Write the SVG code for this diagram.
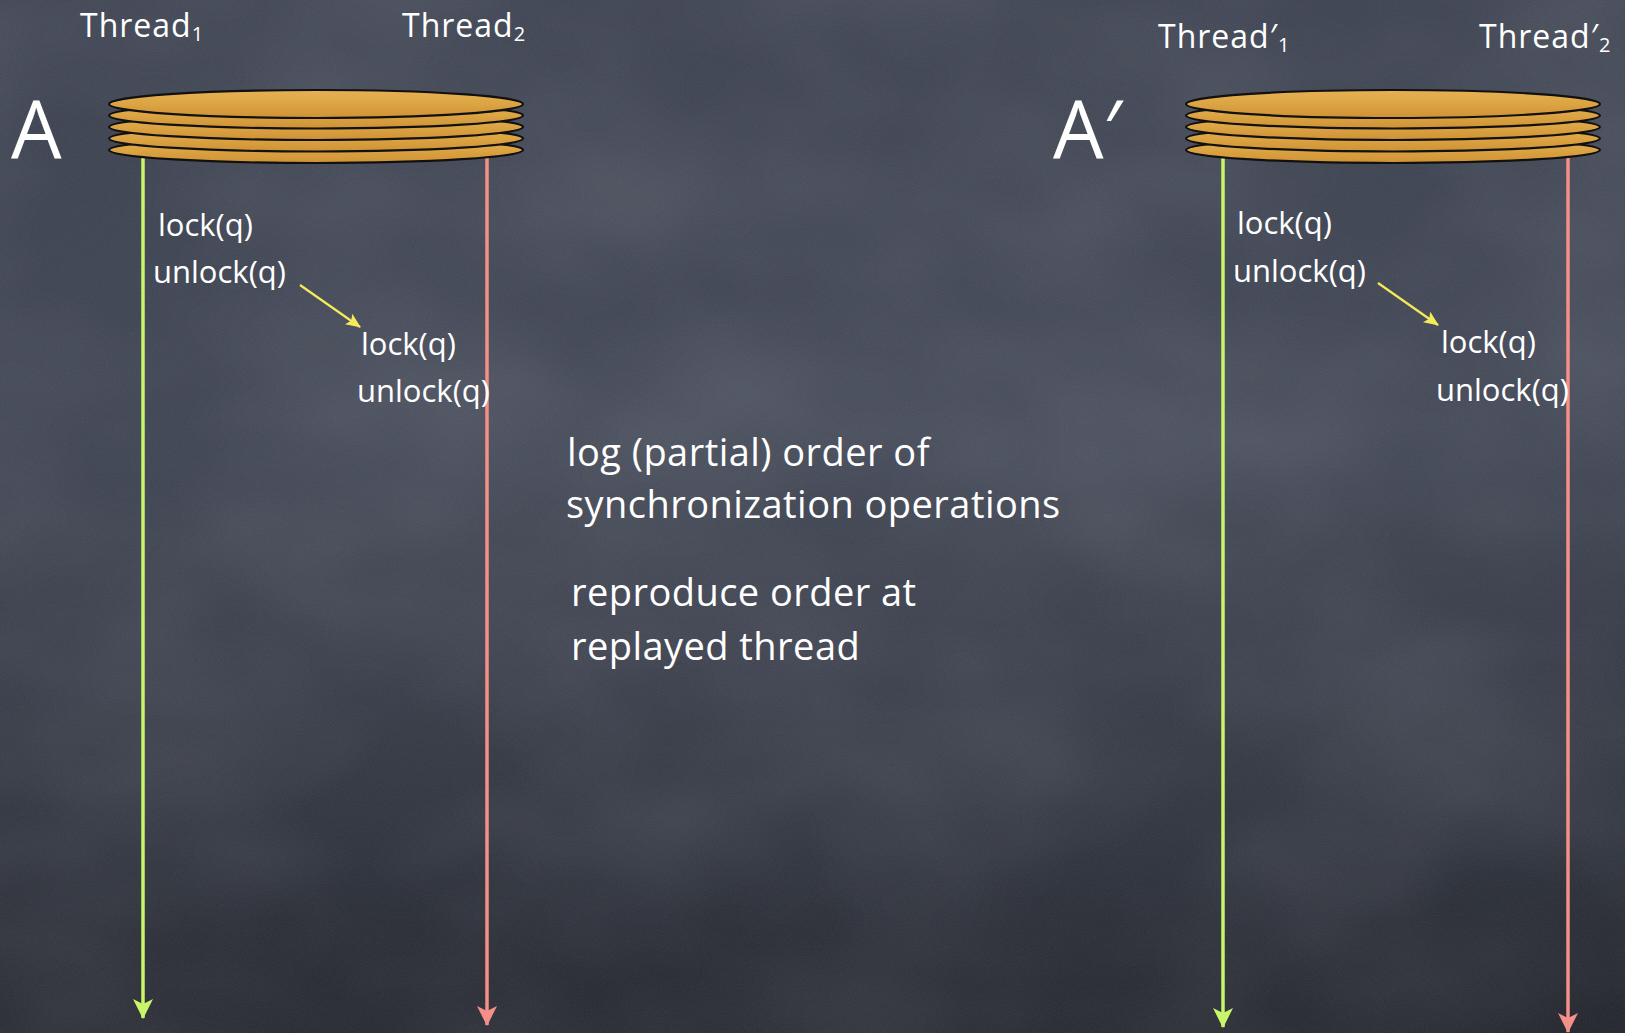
<svg xmlns="http://www.w3.org/2000/svg" width="1625" height="1033" viewBox="0 0 1625 1033">
  <defs>
    <style>
      .label { font-family: "Open Sans", "DejaVu Sans", sans-serif; fill: #ffffff; }
      .thread { font-size: 32px; letter-spacing: 1px; }
      .sub { font-size: 20px; }
      .big { font-size: 80px; }
      .op { font-size: 31px; }
      .note { font-size: 38px; letter-spacing: 0.45px; }
      .disk { fill: url(#wood); stroke: #111111; stroke-width: 2.2; }
      .t1 { stroke: #c9f56b; stroke-width: 3.5; fill: none; marker-end: url(#headGreen); }
      .t2 { stroke: #f58f88; stroke-width: 3.5; fill: none; marker-end: url(#headRed); }
      .order { stroke: #f4ea5c; stroke-width: 2.2; fill: none; marker-end: url(#headYellow); }
    </style>
    <!-- chalkboard shading -->
    <linearGradient id="board" x1="0" y1="0" x2="0" y2="1">
      <stop offset="0" stop-color="#3b404e"/>
      <stop offset="0.45" stop-color="#3d4250"/>
      <stop offset="0.8" stop-color="#2d313b"/>
      <stop offset="1" stop-color="#20232a"/>
    </linearGradient>
    <radialGradient id="smudge" cx="0.5" cy="0.45" r="0.6">
      <stop offset="0" stop-color="#5a5f6c" stop-opacity="0.15"/>
      <stop offset="1" stop-color="#5a5f6c" stop-opacity="0"/>
    </radialGradient>
    <filter id="grain" x="0" y="0" width="100%" height="100%">
      <feTurbulence type="fractalNoise" baseFrequency="0.9" numOctaves="2" seed="3"/>
      <feColorMatrix type="matrix" values="0 0 0 0 0.8  0 0 0 0 0.82  0 0 0 0 0.9  0 0 0 0.08 0"/>
    </filter>
    <filter id="blotch" x="0" y="0" width="100%" height="100%">
      <feTurbulence type="fractalNoise" baseFrequency="0.004 0.006" numOctaves="3" seed="11"/>
      <feColorMatrix type="matrix" values="0 0 0 0 0.6  0 0 0 0 0.62  0 0 0 0 0.7  0 0 0 0.18 -0.05"/>
    </filter>
    <!-- wooden platter -->
    <linearGradient id="wood" x1="0" y1="0" x2="0" y2="1">
      <stop offset="0" stop-color="#e7b254"/>
      <stop offset="0.5" stop-color="#dca442"/>
      <stop offset="1" stop-color="#cf9236"/>
    </linearGradient>
    <marker id="headGreen" viewBox="0 0 20 20" refX="19" refY="10" markerWidth="20" markerHeight="20" markerUnits="userSpaceOnUse" orient="auto">
      <path d="M0,0 L20,10 L0,20 L5,10 Z" fill="#c9f56b"/>
    </marker>
    <marker id="headRed" viewBox="0 0 20 20" refX="19" refY="10" markerWidth="20" markerHeight="20" markerUnits="userSpaceOnUse" orient="auto">
      <path d="M0,0 L20,10 L0,20 L5,10 Z" fill="#f58f88"/>
    </marker>
    <marker id="headYellow" viewBox="0 0 14 12" refX="13" refY="6" markerWidth="15" markerHeight="13" markerUnits="userSpaceOnUse" orient="auto">
      <path d="M0,0 L14,6 L0,12 L3,6 Z" fill="#f4ea5c"/>
    </marker>
    <!-- one platter: five stacked disks, top disk last -->
    <g id="platter">
      <ellipse class="disk" cx="0" cy="150" rx="207" ry="13"/>
      <ellipse class="disk" cx="0" cy="138.5" rx="207" ry="13"/>
      <ellipse class="disk" cx="0" cy="127" rx="207" ry="13"/>
      <ellipse class="disk" cx="0" cy="115.5" rx="207" ry="13"/>
      <ellipse class="disk" cx="0" cy="104" rx="207" ry="14"/>
    </g>
  </defs>

  <!-- board -->
  <rect width="1625" height="1033" fill="url(#board)"/>
  <rect width="1625" height="1033" fill="url(#smudge)"/>
  <rect width="1625" height="1033" filter="url(#blotch)"/>
  <rect width="1625" height="1033" filter="url(#grain)"/>

  <!-- thread timelines -->
  <g id="connectors">
    <line class="t1" x1="143" y1="150" x2="143" y2="1018"/>
    <line class="t2" x1="487" y1="150" x2="487" y2="1025"/>
    <line class="t1" x1="1223" y1="150" x2="1223" y2="1027"/>
    <line class="t2" x1="1568" y1="150" x2="1568" y2="1032"/>
    <line class="order" x1="300" y1="285" x2="360" y2="327"/>
    <line class="order" x1="1378" y1="283" x2="1438" y2="325"/>
  </g>

  <!-- recorded execution A -->
  <g id="process-a">
    <text class="label big" x="11" y="158">A</text>
    <use href="#platter" x="316"/>
  </g>
  <g id="thread-1">
    <text class="label thread" x="80" y="37">Thread<tspan class="sub" dy="4">1</tspan></text>
    <text class="label op" x="158" y="236">lock(q)</text>
    <text class="label op" x="153" y="283">unlock(q)</text>
  </g>
  <g id="thread-2">
    <text class="label thread" x="402" y="37">Thread<tspan class="sub" dy="4">2</tspan></text>
    <text class="label op" x="361" y="355">lock(q)</text>
    <text class="label op" x="357" y="402">unlock(q)</text>
  </g>

  <!-- notes -->
  <g id="notes">
    <text class="label note" x="567" y="466">log (partial) order of</text>
    <text class="label note" x="566" y="518">synchronization operations</text>
    <text class="label note" x="571" y="606">reproduce order at</text>
    <text class="label note" x="571" y="660">replayed thread</text>
  </g>

  <!-- replayed execution A' -->
  <g id="process-a-prime">
    <text class="label big" x="1053" y="158">A′</text>
    <use href="#platter" x="1393"/>
  </g>
  <g id="thread-1-prime">
    <text class="label thread" x="1158" y="48">Thread′<tspan class="sub" dy="4">1</tspan></text>
    <text class="label op" x="1237" y="234">lock(q)</text>
    <text class="label op" x="1233" y="282">unlock(q)</text>
  </g>
  <g id="thread-2-prime">
    <text class="label thread" x="1479" y="48">Thread′<tspan class="sub" dy="4">2</tspan></text>
    <text class="label op" x="1441" y="353">lock(q)</text>
    <text class="label op" x="1436" y="401">unlock(q)</text>
  </g>
</svg>
